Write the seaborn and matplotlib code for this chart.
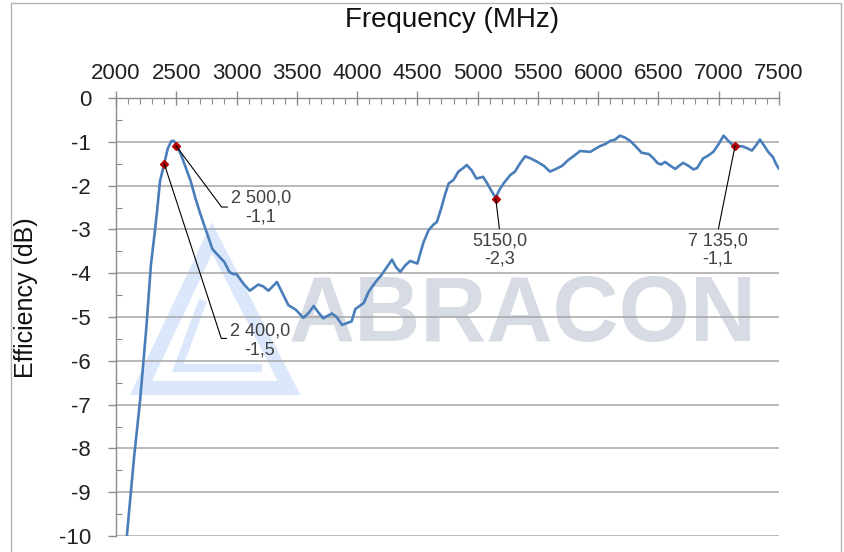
import pandas as pd
import matplotlib.pyplot as plt
import seaborn as sns
from matplotlib.patches import Polygon, Rectangle
from matplotlib.ticker import MultipleLocator

# efficiency curve
freq = [2090, 2150, 2200, 2250, 2290, 2320, 2340, 2365, 2400, 2430, 2460, 2480,
        2500, 2540, 2580, 2620, 2660, 2700, 2750, 2800, 2850, 2900, 2940, 2970,
        3000, 3060, 3110, 3180, 3220, 3265, 3335, 3380, 3430, 3490, 3555, 3600,
        3640, 3680, 3720, 3790, 3830, 3875, 3955, 3985, 4020, 4055, 4095, 4125,
        4165, 4200, 4250, 4290, 4320, 4358, 4400, 4440, 4500, 4550, 4593, 4630,
        4662, 4700, 4730, 4760, 4800, 4840, 4880, 4910, 4950, 4990, 5045, 5080,
        5110, 5150, 5180, 5215, 5270, 5310, 5350, 5395, 5440, 5490, 5550, 5600,
        5650, 5700, 5750, 5800, 5850, 5890, 5935, 5970, 6015, 6060, 6100, 6140,
        6180, 6220, 6265, 6310, 6360, 6420, 6460, 6490, 6520, 6555, 6600, 6640,
        6670, 6705, 6750, 6790, 6820, 6870, 6910, 6955, 7000, 7040, 7080, 7120,
        7135, 7190, 7240, 7275, 7310, 7342, 7380, 7410, 7450, 7480, 7500]
eff = [-10.0, -8.2, -6.9, -5.3, -3.8, -3.1, -2.6, -1.9, -1.5, -1.15, -0.98, -0.98,
       -1.06, -1.3, -1.6, -1.9, -2.3, -2.65, -3.05, -3.45, -3.6, -3.75, -3.97, -4.02,
       -4.02, -4.25, -4.4, -4.26, -4.3, -4.4, -4.2, -4.45, -4.73, -4.83, -5.02, -4.9,
       -4.75, -4.9, -5.03, -4.92, -5.0, -5.18, -5.1, -4.82, -4.75, -4.68, -4.43, -4.31,
       -4.16, -4.05, -3.85, -3.69, -3.85, -3.97, -3.82, -3.72, -3.78, -3.3, -3.02, -2.9,
       -2.83, -2.5, -2.2, -1.95, -1.87, -1.68, -1.6, -1.53, -1.65, -1.84, -1.8, -1.95,
       -2.1, -2.28, -2.1, -1.95, -1.76, -1.68, -1.5, -1.33, -1.38, -1.45, -1.55, -1.68,
       -1.62, -1.55, -1.42, -1.32, -1.21, -1.22, -1.23, -1.17, -1.1, -1.05, -0.98, -0.95,
       -0.86, -0.9, -0.98, -1.1, -1.25, -1.28, -1.38, -1.48, -1.52, -1.46, -1.55, -1.62,
       -1.55, -1.48, -1.55, -1.63, -1.6, -1.38, -1.32, -1.23, -1.05, -0.86, -0.98, -1.08,
       -1.1, -1.1, -1.15, -1.2, -1.08, -0.95, -1.1, -1.23, -1.35, -1.53, -1.62]

# marked points and their labels
mark_freq = [2400, 2500, 5150, 7135]
mark_eff = [-1.5, -1.1, -2.3, -1.1]
mark_labels = ['2 400,0\n-1,5', '2 500,0\n-1,1', '5150,0\n-2,3', '7 135,0\n-1,1']
label_pos = [(3194, -5.53), (3202, -2.49), (5184, -3.47), (6992, -3.47)]

df = pd.DataFrame({'freq': freq, 'eff': eff})

sns.set_style('white')
plt.rcParams['font.family'] = ['Liberation Sans', 'DejaVu Sans']
plt.rcParams['axes.unicode_minus'] = False

fig = plt.figure(figsize=(8.44, 5.52), dpi=100)
ax = fig.add_axes([116 / 844, 1 - 536 / 552, 663 / 844, 438 / 552])

sns.lineplot(data=df, x='freq', y='eff', ax=ax, color='#4a7ebb', linewidth=1.9, zorder=5)
ax.plot(mark_freq, mark_eff, linestyle='none', marker='D', markersize=4,
        color='#b00000', zorder=6)

# leader lines: first two bend horizontally into the label, others are straight
styles = [
    dict(relpos=(0, 0.55), conn='angle,angleA=0,angleB=-71.9,rad=0'),
    dict(relpos=(0, 0.5), conn='angle,angleA=0,angleB=-53.3,rad=0'),
    dict(relpos=(0.5, 1), conn='arc3'),
    dict(relpos=(0.5, 1), conn='arc3'),
]
for fx, fy, txt, pos, st in zip(mark_freq, mark_eff, mark_labels, label_pos, styles):
    ax.annotate(txt, xy=(fx, fy), xytext=pos, textcoords='data',
                ha='center', va='center', fontsize=13, color='#404040',
                linespacing=1.15, zorder=7,
                arrowprops=dict(arrowstyle='-', color='black', lw=0.8,
                                relpos=st['relpos'], connectionstyle=st['conn'],
                                shrinkA=0, shrinkB=0))

ax.set_xlim(2000, 7500)
ax.set_ylim(-10, 0)
ax.xaxis.tick_top()
ax.xaxis.set_label_position('top')
ax.xaxis.set_major_locator(MultipleLocator(500))
ax.xaxis.set_minor_locator(MultipleLocator(100))
ax.yaxis.set_major_locator(MultipleLocator(1))
ax.yaxis.set_minor_locator(MultipleLocator(0.5))
ax.tick_params(axis='x', which='major', direction='inout', length=10, width=1,
               color='#8c8c8c', labelsize=16, labelcolor='#222222', pad=5)
ax.tick_params(axis='x', which='minor', direction='in', length=4.3, width=0.8,
               color='#8c8c8c', top=True, bottom=False)
ax.tick_params(axis='y', which='major', direction='out', length=6, width=1,
               color='#8c8c8c', labelsize=16, labelcolor='#222222', pad=12, left=True)
ax.tick_params(axis='y', which='minor', direction='in', length=4.3, width=0.8,
               color='#8c8c8c', left=True)

ax.yaxis.grid(True, color='#a6a6a6', linewidth=1.1)
ax.xaxis.grid(False)
ax.set_axisbelow(True)
for side in ['right', 'bottom']:
    ax.spines[side].set_visible(False)
for side in ['left', 'top']:
    ax.spines[side].set_color('#8c8c8c')
    ax.spines[side].set_linewidth(1)

ax.set_xlabel('Frequency (MHz)', fontsize=20, color='#111111')
ax.xaxis.label.set_va('center')
ax.xaxis.set_label_coords(0.507, 1.178)
ax.set_ylabel('Efficiency (dB)', fontsize=18, color='#111111')
ax.yaxis.set_label_coords(-0.117, 0.543)


# watermark, placed in figure pixels, drawn under the grid
def px(x, y):
    return (x / 844, 1 - y / 552)


logo_col = '#dbe7fa'
outer = Polygon([px(212, 238), px(289, 388), px(141, 388)], closed=True,
                transform=fig.transFigure, facecolor='none', edgecolor=logo_col,
                linewidth=10, joinstyle='miter', zorder=0.2, clip_on=False)
inner = Polygon([px(203, 300), px(178, 368), px(262, 368)], closed=False,
                transform=fig.transFigure, facecolor='none', edgecolor=logo_col,
                linewidth=6, zorder=0.2, clip_on=False)
ax.add_artist(outer)
ax.add_artist(inner)
ax.text(523 / 844, 1 - 317 / 552, 'ABRACON', transform=fig.transFigure,
        ha='center', va='center', fontsize=66, fontweight='bold',
        color='#d6dbe4', zorder=0.2)

# chart area border
fig.add_artist(Rectangle(px(11, 600), 830 / 844, (600 - 2.5) / 552,
                         transform=fig.transFigure, facecolor='none',
                         edgecolor='#b3b3b3', linewidth=1, zorder=-1))

fig.savefig('out.png', dpi=100)
